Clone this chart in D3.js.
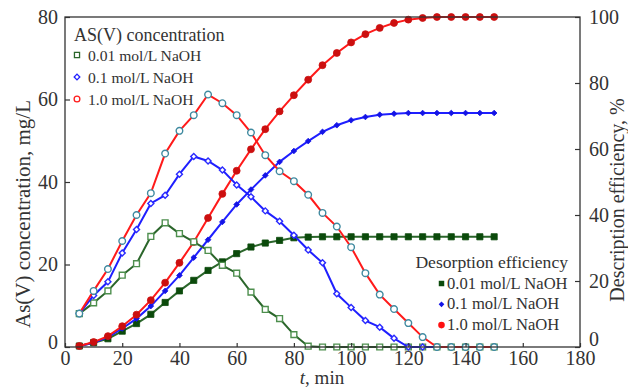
<!DOCTYPE html>
<html>
<head>
<meta charset="utf-8">
<script src="https://cdn.jsdelivr.net/npm/d3@7"></script>
<style>
  body { margin: 0; background: #fff; }
  text { font-family: "Liberation Serif", "DejaVu Serif", serif; fill: #333; }
</style>
</head>
<body>
<div id="chart-area"></div>
<script>
// time, min
var time = [5, 10, 15, 20, 25, 30, 35, 40, 45, 50, 55, 60, 65, 70, 75,
            80, 85, 90, 95, 100, 105, 110, 115, 120, 125, 130, 135, 140, 145, 150];

// As(V) concentration, mg/L
var concLow = [8.1, 10.7, 13.6, 17.4, 20.2, 26.8, 30.1, 27.5, 25.5, 23.4, 19.8, 17.9, 13.3, 9.1, 6.9,
               3.0, 0.2, 0, 0, 0, 0, 0, 0, 0, 0, 0, 0, 0, 0, 0];
var concMid = [8.1, 12.5, 15.8, 22.8, 28.5, 34.8, 36.8, 41.9, 46.2, 45.1, 42.9, 39.3, 36.4, 33.0, 30.5,
               27.1, 23.5, 20.4, 12.9, 9.6, 6.4, 4.8, 2.1, 0, 0, 0, 0, 0, 0, 0];
var concHigh = [8.1, 13.6, 18.9, 25.7, 32.0, 37.3, 46.9, 52.4, 56.2, 61.2, 59.1, 56.2, 52.0, 46.5, 42.6,
                40.2, 36.9, 32.5, 29.2, 24.2, 17.9, 12.7, 9.2, 5.8, 2.4, 0, 0, 0, 0, 0];

// Desorption efficiency, %
var effLow = [0.3, 1.3, 2.5, 4.8, 7.1, 9.9, 13.5, 17.0, 20.2, 23.2, 25.8, 28.3, 30.3, 31.5, 32.3,
              33.1, 33.3, 33.4, 33.4, 33.4, 33.4, 33.4, 33.4, 33.4, 33.4, 33.4, 33.4, 33.4, 33.4, 33.4];
var effMid = [0.3, 1.3, 3.0, 5.6, 8.6, 12.4, 17.0, 21.7, 27.1, 32.5, 37.9, 43.2, 47.7, 52.0, 56.1,
              59.4, 62.4, 65.2, 67.2, 68.7, 69.7, 70.4, 70.7, 70.9, 70.9, 70.9, 70.9, 70.9, 70.9, 70.9];
var effHigh = [0.3, 1.5, 3.3, 6.3, 9.8, 14.2, 19.5, 25.5, 31.8, 39.1, 46.4, 53.4, 59.9, 66.0, 71.4,
               76.3, 81.0, 85.4, 89.1, 92.3, 94.8, 96.7, 98.2, 99.2, 99.7, 100, 100, 100, 100, 100];

var labels = ["0.01 mol/L NaOH", "0.1 mol/L NaOH", "1.0 mol/L NaOH"];
var xTicks = [0, 20, 40, 60, 80, 100, 120, 140, 160, 180];
var leftTicks = [0, 20, 40, 60, 80];
var rightTicks = [0, 20, 40, 60, 80, 100];

var W = 628, H = 388;
var svg = d3.select("#chart-area").append("svg")
    .attr("width", W)
    .attr("height", H);

var x = d3.scaleLinear().domain([0, 180]).range([65, 580]);
var yL = d3.scaleLinear().domain([0, 80]).range([347, 17]);
var yR = d3.scaleLinear().domain([0, 100]).range([347, 17]);

// diamonds are squares turned 45 degrees
var effSeries = [
    { vals: effLow, line: "#2b662b", fill: "#0b4a0b", sym: d3.symbolSquare, size: 38, rot: 0 },
    { vals: effMid, line: "#1f1fff", fill: "#1414e6", sym: d3.symbolSquare, size: 16, rot: 45 },
    { vals: effHigh, line: "#ff1a1a", fill: "#cc0f0f", sym: d3.symbolCircle, size: 38, rot: 0 }
];
var concSeries = [
    { vals: concLow, line: "#2b662b", stroke: "#4e8f4e", sym: d3.symbolSquare, size: 34, rot: 0 },
    { vals: concMid, line: "#1f1fff", stroke: "#2a2aff", sym: d3.symbolSquare, size: 18, rot: 45 },
    { vals: concHigh, line: "#ff1a1a", stroke: "#3f8aa0", sym: d3.symbolCircle, size: 34, rot: 0 }
];

function drawSeries(s, y, filled) {
    var pts = time.map((t, i) => [t, s.vals[i]]);
    var line = d3.line().x(d => x(d[0])).y(d => y(d[1]));
    svg.append("path")
        .attr("d", line(pts))
        .attr("fill", "none")
        .attr("stroke", s.line)
        .attr("stroke-width", 2);
    svg.append("g").selectAll("path")
        .data(pts)
        .enter()
        .append("path")
        .attr("transform", d => `translate(${x(d[0])},${y(d[1])}) rotate(${s.rot})`)
        .attr("d", d3.symbol().type(s.sym).size(s.size))
        .attr("fill", filled ? s.fill : "#fff")
        .attr("stroke", filled ? s.fill : s.stroke)
        .attr("stroke-width", filled ? 0.8 : 1.4);
}

effSeries.forEach(s => drawSeries(s, yR, true));
concSeries.forEach(s => drawSeries(s, yL, false));

// frame
svg.append("rect")
    .attr("x", 65).attr("y", 17)
    .attr("width", 515).attr("height", 330)
    .attr("fill", "none")
    .attr("stroke", "#333")
    .attr("stroke-width", 1.3);

// axes, ticks pointing inward
var xAxis = svg.append("g").attr("transform", "translate(0,347)")
    .call(d3.axisBottom(x).tickValues(xTicks).tickSizeInner(-4).tickSizeOuter(0).tickPadding(4));
var lAxis = svg.append("g").attr("transform", "translate(65,0)")
    .call(d3.axisLeft(yL).tickValues(leftTicks).tickSizeInner(-5).tickSizeOuter(0).tickPadding(7));
var rAxis = svg.append("g").attr("transform", "translate(580,0)")
    .call(d3.axisRight(yR).tickValues(rightTicks).tickSizeInner(-5).tickSizeOuter(0).tickPadding(9));

[xAxis, lAxis, rAxis].forEach(a => {
    a.attr("font-family", null);
    a.select(".domain").remove();
    a.selectAll(".tick line").attr("stroke", "#333").attr("stroke-width", 1.2);
    a.selectAll(".tick text")
        .attr("font-size", 20)
        .attr("fill", "#333");
});
lAxis.selectAll(".tick text").filter(d => d === 0).attr("y", -5);
rAxis.selectAll(".tick text").filter(d => d === 0).attr("y", -8);

// axis titles
svg.append("text")
    .attr("transform", "translate(30,214) rotate(-90)")
    .attr("text-anchor", "middle")
    .attr("font-size", 21)
    .text("As(V) concentration, mg/L");

svg.append("text")
    .attr("transform", "translate(624,200) rotate(-90)")
    .attr("text-anchor", "middle")
    .attr("font-size", 20)
    .text("Description efficiency, %");

var xt = svg.append("text")
    .attr("x", 322).attr("y", 384)
    .attr("text-anchor", "middle")
    .attr("font-size", 19);
xt.append("tspan").attr("font-style", "italic").text("t");
xt.append("tspan").text(", min");

// legend: concentration (open markers)
svg.append("text")
    .attr("x", 74).attr("y", 41)
    .attr("font-size", 18)
    .text("AS(V) concentration");

var legTop = [
    { sym: d3.symbolSquare, stroke: "#2b662b", size: 26, rot: 0 },
    { sym: d3.symbolSquare, stroke: "#1f1fff", size: 16, rot: 45 },
    { sym: d3.symbolCircle, stroke: "#ff1a1a", size: 26, rot: 0 }
];
legTop.forEach((m, i) => {
    var cy = 55 + i * 22;
    svg.append("path")
        .attr("transform", `translate(77,${cy}) rotate(${m.rot})`)
        .attr("d", d3.symbol().type(m.sym).size(m.size))
        .attr("fill", "#fff")
        .attr("stroke", m.stroke)
        .attr("stroke-width", 1.3);
    svg.append("text")
        .attr("x", 88).attr("y", cy + 5.5)
        .attr("font-size", 15.6)
        .text(labels[i]);
});

// legend: desorption efficiency (filled markers)
svg.append("text")
    .attr("x", 568).attr("y", 268)
    .attr("text-anchor", "end")
    .attr("font-size", 17.6)
    .text("Desorption efficiency");

var legBot = [
    { sym: d3.symbolSquare, fill: "#0b4a0b", size: 30, rot: 0 },
    { sym: d3.symbolSquare, fill: "#1414e6", size: 16, rot: 45 },
    { sym: d3.symbolCircle, fill: "#ff1010", size: 34, rot: 0 }
];
legBot.forEach((m, i) => {
    var cy = 283.5 + i * 20.8;
    svg.append("path")
        .attr("transform", `translate(441.5,${cy}) rotate(${m.rot})`)
        .attr("d", d3.symbol().type(m.sym).size(m.size))
        .attr("fill", m.fill);
    svg.append("text")
        .attr("x", 447).attr("y", cy + 5)
        .attr("font-size", 16.6)
        .text(labels[i]);
});
</script>
</body>
</html>
